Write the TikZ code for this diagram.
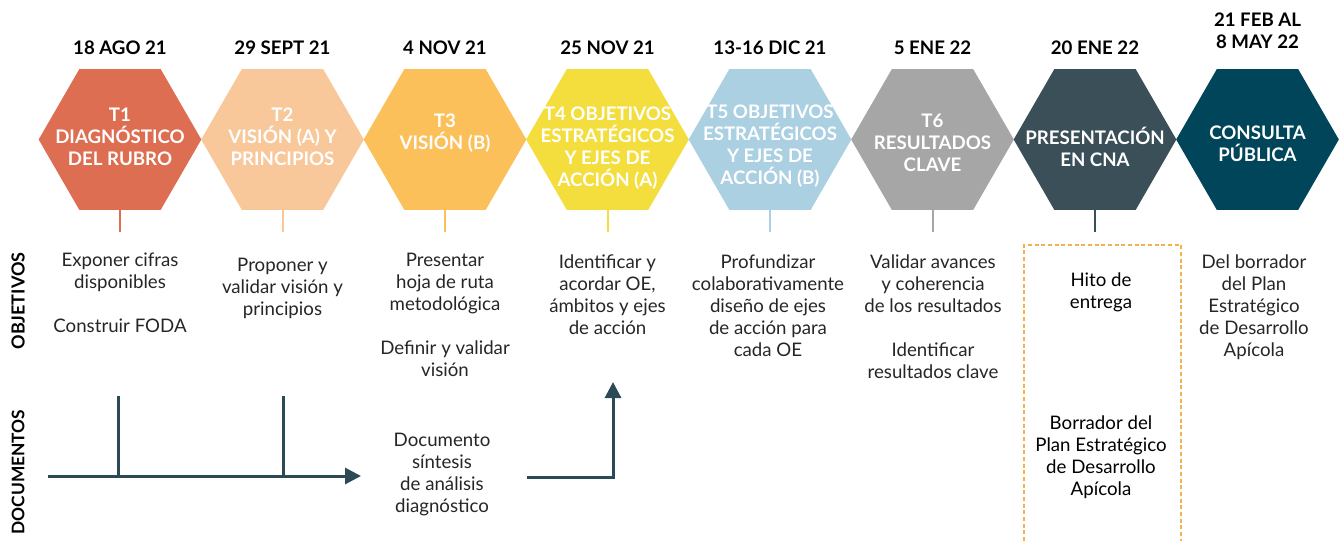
\documentclass[tikz,border=0pt]{standalone}
\usepackage{fontspec}
\setmainfont{Lato}
\usetikzlibrary{shapes.geometric,arrows.meta}
\definecolor{tone1}{HTML}{DD6E52}
\definecolor{tone2}{HTML}{F8C89A}
\definecolor{tone3}{HTML}{FBC05A}
\definecolor{tone4}{HTML}{F3DE3E}
\definecolor{tone5}{HTML}{ABD0E2}
\definecolor{tone6}{HTML}{A6A6A6}
\definecolor{tone7}{HTML}{3A4F58}
\definecolor{tone8}{HTML}{004559}
\definecolor{slate}{HTML}{2B4A55}
\definecolor{ink}{HTML}{262626}
\definecolor{amber}{HTML}{F2B24C}

\begin{document}
\begin{tikzpicture}[x=0.75pt,y=-0.75pt]
        \tikzstyle{hexa}=[regular polygon, regular polygon sides=6, minimum size=122pt, inner sep=0pt, outer sep=0pt]
        \tikzstyle{hextext}=[text=white, align=center, font=\fontsize{14}{16.5}\selectfont\bfseries]
        \tikzstyle{date}=[align=center, text=black, font=\fontsize{14}{16.5}\selectfont\bfseries]
        \tikzstyle{goal}=[align=center, anchor=north, inner sep=0pt, text=ink, font=\fontsize{14}{16.5}\selectfont]
        \tikzstyle{side}=[rotate=90, text=black, font=\fontsize{13.5}{16}\selectfont\bfseries]
        \tikzstyle{flow}=[line width=2.25pt, draw=slate]
        \tikzstyle{hito}=[draw=amber, line width=1.1pt, dash pattern=on 3pt off 2pt]
        \useasboundingbox (0,0) rectangle (1339,540);

        % hexagonos
        \node[hexa, fill=tone1] (h1) at (120,139.5) {};
        \node[hexa, fill=tone2] (h2) at (282.5,139.5) {};
        \node[hexa, fill=tone3] (h3) at (445,139.5) {};
        \node[hexa, fill=tone4] (h4) at (607.5,139.5) {};
        \node[hexa, fill=tone5] (h5) at (770,139.5) {};
        \node[hexa, fill=tone6] (h6) at (932.5,139.5) {};
        \node[hexa, fill=tone7] (h7) at (1095,139.5) {};
        \node[hexa, fill=tone8] (h8) at (1257.5,139.5) {};

        \node[hextext] (t1) at (120,137) {T1\\DIAGNÓSTICO\\DEL RUBRO};
        \node[hextext] (t2) at (282.5,137) {T2\\VISIÓN (A) Y\\PRINCIPIOS};
        \node[hextext] (t3) at (445,133) {T3\\VISIÓN (B)};
        \node[hextext] (t4) at (607.5,148) {T4 OBJETIVOS\\ESTRATÉGICOS\\Y EJES DE\\ACCIÓN (A)};
        \node[hextext] (t5) at (770,146) {T5 OBJETIVOS\\ESTRATÉGICOS\\Y EJES DE\\ACCIÓN (B)};
        \node[hextext] (t6) at (932.5,143) {T6\\RESULTADOS\\CLAVE};
        \node[hextext] (t7) at (1095,147) {PRESENTACIÓN\\EN CNA};
        \node[hextext] (t8) at (1257.5,144) {CONSULTA\\PÚBLICA};

        % fechas
        \node[date] (d1) at (120,48) {18 AGO 21};
        \node[date] (d2) at (282.5,48) {29 SEPT 21};
        \node[date] (d3) at (445,48) {4 NOV 21};
        \node[date] (d4) at (607.5,48) {25 NOV 21};
        \node[date] (d5) at (770,48) {13-16 DIC 21};
        \node[date] (d6) at (932.5,48) {5 ENE 22};
        \node[date] (d7) at (1095,48) {20 ENE 22};
        \node[date] (d8) at (1257.5,31) {21 FEB AL\\8 MAY 22};

        \foreach \i/\c in {1/tone1,2/tone2,3/tone3,4/tone4,5/tone5,6/tone6,7/tone7}{
            \path (h\i.south) ++(0,22) coordinate (s\i);
            \draw[line width=1.5pt, \c] (h\i.south) -- (s\i);
        }

        \node[side] (obj) at (18,301) {OBJETIVOS};
        \node[side, anchor=east, font=\fontsize{13}{16}\selectfont\bfseries] (docs) at (18,405) {DOCUMENTOS};

        % objetivos
        \node[goal] (g1) at (120,253) {Exponer cifras\\disponibles\\[16.5pt]Construir FODA};
        \node[goal] (g2) at (282.5,258) {Proponer y\\validar visión y\\principios};
        \node[goal] (g3) at (445,253) {Presentar\\hoja de ruta\\metodológica\\[16.5pt]Definir y validar\\visión};
        \node[goal] (g4) at (607.5,254) {Identificar y\\acordar OE,\\ámbitos y ejes\\de acción};
        \node[goal] (g5) at (768,254) {Profundizar\\colaborativamente\\diseño de ejes\\de acción para\\cada OE};
        \node[goal] (g6) at (933,254) {Validar avances\\y coherencia\\de los resultados\\[16.5pt]Identificar\\resultados clave};
        \node[goal, text=black] (g7) at (1101,272) {Hito de\\entrega};
        \node[goal] (g8) at (1254,254) {Del borrador\\del Plan\\Estratégico\\de Desarrollo\\Apícola};

        \draw[hito] (1024,541) |- (1181,245) -- (1181,541);

        % documentos
        \node[goal] (doc1) at (442,433) {Documento\\síntesis\\de análisis\\diagnóstico};
        \node[goal, text=black] (doc2) at (1101,415) {Borrador del\\Plan Estratégico\\de Desarrollo\\Apícola};

        \coordinate (a0) at (48,476);
        \coordinate (a1) at (361,476);
        \coordinate (k1) at (118,396);
        \coordinate (k2) at (283,396);
        \draw[flow, -{Triangle[length=12pt,width=12pt]}] (a0) -- (a1);
        \draw[flow] (k1) -- (k1 |- a0);
        \draw[flow] (k2) -- (k2 |- a0);

        \coordinate (b0) at (527,477);
        \coordinate (b1) at (613,382);
        \draw[flow, -{Triangle[length=12pt,width=12pt]}] (b0) -| (b1);
    \end{tikzpicture}
\end{document}
